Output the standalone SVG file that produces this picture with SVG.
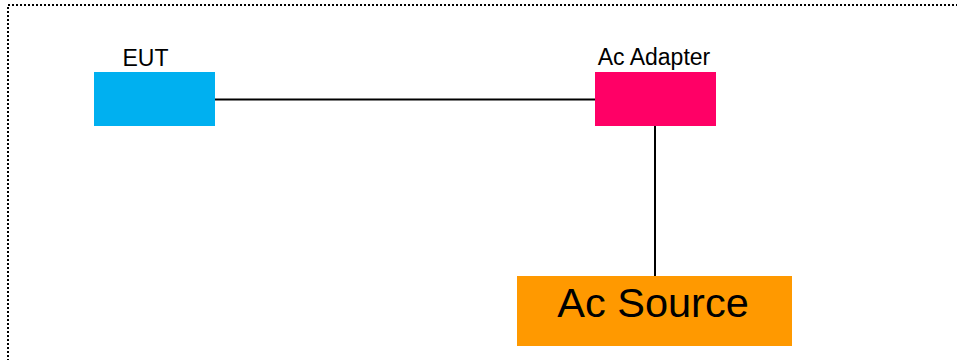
<svg xmlns="http://www.w3.org/2000/svg" width="957" height="360" viewBox="0 0 957 360">
<style>
.lbl{font-family:"Liberation Sans",Arial,sans-serif;fill:#000;text-anchor:middle}
.wire{stroke:#000;stroke-width:2;fill:none}
</style>
<rect x="0" y="0" width="957" height="360" fill="#fff"/>
<rect x="8" y="5" width="960" height="370" fill="none" stroke="#000" stroke-width="2" stroke-dasharray="2 2"/>
<g id="connectors">
<line class="wire" x1="215" y1="99.5" x2="595" y2="99.5"/>
<line class="wire" x1="655" y1="126" x2="655" y2="276"/>
</g>
<g id="eut">
<rect x="94" y="72" width="121" height="54" fill="#00B0F0"/>
<text class="lbl" x="145.5" y="65.5" font-size="23">EUT</text>
</g>
<g id="ac-adapter">
<rect x="595" y="72" width="121" height="54" fill="#FF0066"/>
<text class="lbl" x="654" y="65" font-size="23">Ac Adapter</text>
</g>
<g id="ac-source">
<rect x="517" y="276" width="275" height="70" fill="#FF9900"/>
<text class="lbl" x="653" y="317" font-size="41.5">Ac Source</text>
</g>
</svg>
